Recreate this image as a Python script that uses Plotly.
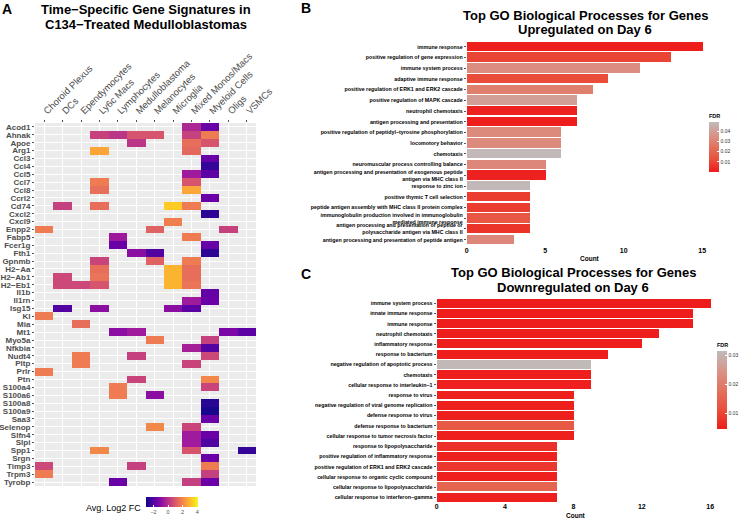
import plotly.graph_objects as go

W, H = 740, 519
FONT = "Liberation Sans, Arial, Helvetica, sans-serif"


def fx(p):
    return p / W


def fy(p):
    return 1 - p / H


# ---------------- Panel A data ----------------
cell_types = ["Choroid Plexus", "DCs", "Ependymocytes", "Ly6c Macs", "Lymphocytes",
              "Medulloblastoma", "Melanocytes", "Microglia", "Mixed Monos/Macs",
              "Myeloid Cells", "Oligs", "VSMCs"]

genes = ["Acod1", "Ahnak", "Apoe", "Arg1", "Ccl3", "Ccl4", "Ccl5", "Ccl7", "Ccl8", "Ccrl2",
         "Cd74", "Cxcl2", "Cxcl9", "Enpp2", "Fabp5", "Fcer1g", "Fth1", "Gpnmb", "H2−Aa",
         "H2−Ab1", "H2−Eb1", "Il1b", "Il1rn", "Isg15", "Kl", "Mia", "Mt1", "Myo5a", "Nfkbia",
         "Nudt4", "Pltp", "Prlr", "Ptn", "S100a4", "S100a6", "S100a8", "S100a9", "Saa3",
         "Selenop", "Slfn4", "Slpi", "Spp1", "Srgn", "Timp3", "Trpm3", "Tyrobp"]

hm_gene = [
    "Acod1", "Acod1",
    "Ahnak", "Ahnak", "Ahnak", "Ahnak", "Ahnak", "Ahnak",
    "Apoe", "Apoe", "Apoe",
    "Arg1", "Arg1",
    "Ccl3", "Ccl4", "Ccl5", "Ccl5",
    "Ccl7", "Ccl7", "Ccl8", "Ccl8", "Ccrl2",
    "Cd74", "Cd74", "Cd74", "Cd74",
    "Cxcl2", "Cxcl9",
    "Enpp2", "Enpp2", "Enpp2",
    "Fabp5", "Fabp5", "Fcer1g", "Fcer1g",
    "Fth1", "Fth1", "Fth1",
    "Gpnmb", "Gpnmb", "Gpnmb",
    "H2−Aa", "H2−Aa", "H2−Aa",
    "H2−Ab1", "H2−Ab1", "H2−Ab1", "H2−Ab1",
    "H2−Eb1", "H2−Eb1", "H2−Eb1", "H2−Eb1", "H2−Eb1",
    "Il1b", "Il1rn", "Il1rn",
    "Isg15", "Isg15", "Isg15", "Isg15",
    "Kl", "Mia",
    "Mt1", "Mt1", "Mt1", "Mt1",
    "Myo5a", "Myo5a", "Nfkbia", "Nfkbia",
    "Nudt4", "Nudt4", "Nudt4", "Pltp", "Pltp",
    "Prlr", "Ptn", "Ptn",
    "S100a4", "S100a4", "S100a6", "S100a6",
    "S100a8", "S100a9", "Saa3",
    "Selenop", "Selenop", "Slfn4", "Slfn4", "Slpi", "Slpi",
    "Spp1", "Spp1", "Spp1", "Srgn",
    "Timp3", "Timp3", "Timp3", "Trpm3", "Trpm3",
    "Tyrobp", "Tyrobp", "Tyrobp",
]

hm_cell = [
    "Mixed Monos/Macs", "Myeloid Cells",
    "Ly6c Macs", "Lymphocytes", "Medulloblastoma", "Melanocytes", "Mixed Monos/Macs", "Myeloid Cells",
    "Medulloblastoma", "Mixed Monos/Macs", "Myeloid Cells",
    "Ly6c Macs", "Mixed Monos/Macs",
    "Myeloid Cells", "Myeloid Cells", "Mixed Monos/Macs", "Myeloid Cells",
    "Ly6c Macs", "Mixed Monos/Macs", "Ly6c Macs", "Mixed Monos/Macs", "Myeloid Cells",
    "DCs", "Ly6c Macs", "Microglia", "Mixed Monos/Macs",
    "Myeloid Cells", "Microglia",
    "Choroid Plexus", "Melanocytes", "Oligs",
    "Lymphocytes", "Mixed Monos/Macs", "Lymphocytes", "Myeloid Cells",
    "Medulloblastoma", "Melanocytes", "Myeloid Cells",
    "Ly6c Macs", "Melanocytes", "Mixed Monos/Macs",
    "Ly6c Macs", "Microglia", "Mixed Monos/Macs",
    "DCs", "Ly6c Macs", "Microglia", "Mixed Monos/Macs",
    "DCs", "Ependymocytes", "Ly6c Macs", "Microglia", "Mixed Monos/Macs",
    "Myeloid Cells", "Mixed Monos/Macs", "Myeloid Cells",
    "DCs", "Ly6c Macs", "Microglia", "Mixed Monos/Macs",
    "Choroid Plexus", "Ependymocytes",
    "Lymphocytes", "Medulloblastoma", "Oligs", "VSMCs",
    "Melanocytes", "Myeloid Cells", "Mixed Monos/Macs", "Myeloid Cells",
    "Ependymocytes", "Medulloblastoma", "Myeloid Cells", "Ependymocytes", "Mixed Monos/Macs",
    "Choroid Plexus", "Medulloblastoma", "Myeloid Cells",
    "Lymphocytes", "Myeloid Cells", "Lymphocytes", "Melanocytes",
    "Myeloid Cells", "Myeloid Cells", "Myeloid Cells",
    "Melanocytes", "Mixed Monos/Macs", "Mixed Monos/Macs", "Myeloid Cells", "Mixed Monos/Macs", "Myeloid Cells",
    "Ly6c Macs", "Mixed Monos/Macs", "VSMCs", "Myeloid Cells",
    "Choroid Plexus", "Medulloblastoma", "Myeloid Cells", "Choroid Plexus", "Myeloid Cells",
    "Lymphocytes", "Mixed Monos/Macs", "Myeloid Cells",
]

hm_fc = [
    -0.3, -1.6,
    0.4, 0.1, 0.85, 0.85, 0.4, 1.75,
    0.1, 1.45, 0.85,
    2.6, 1.35,
    -1.6, -2.5, -0.6, -1.85,
    1.75, 0.85, 1.5, 2.65, -1.6,
    0.35, 1.45, 3.3, 1.75,
    -2.6, 1.85,
    1.75, 1.2, 0.4,
    -0.65, 1.75, -1.6, -1.65,
    -1.0, -2.05, -2.6,
    0.45, 1.2, 1.75,
    1.45, 2.9, 1.45,
    0.55, 1.6, 2.9, 1.45,
    0.55, 0.55, 0.85, 2.9, 1.6,
    -1.7, -0.6, -1.6,
    -2.05, -1.0, -1.0, -1.85,
    1.75, 1.45,
    -1.0, -0.6, -1.3, -1.85,
    1.75, 0.35, -0.45, -2.0,
    1.75, 0.35, 0.55, 1.75, 0.45,
    1.75, 0.45, 2.0,
    1.75, 0.45, 1.75, -1.0,
    -2.7, -2.9, -1.6,
    2.0, 0.45, -0.6, -1.6, -0.6, -2.1,
    2.0, 0.85, -2.5, -1.6,
    0.55, 0.35, 1.75, 1.75, 0.35,
    -1.6, 0.35, -1.6,
]

# ---------------- Panel B data ----------------
up_terms = [
    "immune response",
    "positive regulation of gene expression",
    "immune system process",
    "adaptive immune response",
    "positive regulation of ERK1 and ERK2 cascade",
    "positive regulation of MAPK cascade",
    "neutrophil chemotaxis",
    "antigen processing and presentation",
    "positive regulation of peptidyl−tyrosine phosphorylation",
    "locomotory behavior",
    "chemotaxis",
    "neuromuscular process controlling balance",
    "antigen processing and presentation of exogenous peptide<br>antigen via MHC class II",
    "response to zinc ion",
    "positive thymic T cell selection",
    "peptide antigen assembly with MHC class II protein complex",
    "immunoglobulin production involved in immunoglobulin<br>mediated immune response",
    "antigen processing and presentation of peptide or<br>polysaccharide antigen via MHC class II",
    "antigen processing and presentation of peptide antigen",
]
up_count = [15, 13, 11, 9, 8, 7, 7, 7, 6, 6, 6, 5, 5, 4, 4, 4, 4, 4, 3]
up_fdr = [0.001, 0.010, 0.034, 0.012, 0.029, 0.040, 0.002, 0.001, 0.033, 0.033,
          0.048, 0.032, 0.002, 0.048, 0.008, 0.008, 0.015, 0.006, 0.032]

# ---------------- Panel C data ----------------
down_terms = [
    "immune system process",
    "innate immune response",
    "immune response",
    "neutrophil chemotaxis",
    "inflammatory response",
    "response to bacterium",
    "negative regulation of apoptotic process",
    "chemotaxis",
    "cellular response to interleukin−1",
    "response to virus",
    "negative regulation of viral genome replication",
    "defense response to virus",
    "defense response to bacterium",
    "cellular response to tumor necrosis factor",
    "response to lipopolysaccharide",
    "positive regulation of inflammatory response",
    "positive regulation of ERK1 and ERK2 cascade",
    "cellular response to organic cyclic compound",
    "cellular response to lipopolysaccharide",
    "cellular response to interferon−gamma",
]
down_count = [16, 15, 15, 13, 12, 10, 9, 9, 9, 8, 8, 8, 8, 8, 7, 7, 7, 7, 7, 7]
down_fdr = [0.0046, 0.0046, 0.0047, 0.0047, 0.0048, 0.0048, 0.031, 0.0048, 0.0049, 0.005,
            0.005, 0.005, 0.013, 0.005, 0.007, 0.005, 0.008, 0.005, 0.015, 0.005]

# ---------------- build heatmap matrix ----------------
z = [[None] * len(cell_types) for _ in genes]
for g, c, v in zip(hm_gene, hm_cell, hm_fc):
    z[genes.index(g)][cell_types.index(c)] = v

red_grey = [[0.0, "#EE1C1C"], [0.25, "#E9503C"], [0.5, "#E2735F"],
            [0.75, "#D8958A"], [1.0, "#BFBBBB"]]

fig = go.Figure()

fig.add_trace(go.Heatmap(
    x=cell_types, y=genes, z=z, coloraxis="coloraxis",
    xaxis="x", yaxis="y", hoverongaps=False, xgap=0, ygap=0,
))

fig.add_trace(go.Bar(
    x=up_count, y=up_terms, orientation="h", width=0.88,
    marker=dict(color=up_fdr, coloraxis="coloraxis2", line=dict(width=0)),
    xaxis="x2", yaxis="y2",
))

fig.add_trace(go.Bar(
    x=down_count, y=down_terms, orientation="h", width=0.88,
    marker=dict(color=down_fdr, coloraxis="coloraxis3", line=dict(width=0)),
    xaxis="x3", yaxis="y3",
))

bar_tick_font = dict(family=FONT, size=5.3, color="black", weight="bold")
count_tick_font = dict(family=FONT, size=7, color="black", weight="bold")
fdr_title = dict(text="FDR", side="top", font=dict(family=FONT, size=5.5, color="black", weight="bold"))

fig.update_layout(
    width=W, height=H,
    margin=dict(l=0, r=0, t=0, b=0, autoexpand=False),
    paper_bgcolor="white", plot_bgcolor="rgba(0,0,0,0)",
    font=dict(family=FONT),
    showlegend=False,
    bargap=0,
    xaxis=dict(
        domain=[fx(35), fx(256)], anchor="y", side="top",
        type="category", categoryorder="array", categoryarray=cell_types,
        tickmode="array", tickvals=cell_types,
        range=[-0.5, len(cell_types) - 0.5],
        tickangle=-45, tickfont=dict(family=FONT, size=9.5, color="#4d4d4d"),
        showgrid=True, gridcolor="white", gridwidth=1,
        ticks="outside", ticklen=2, tickcolor="#555", zeroline=False, showline=False,
        automargin=False,
    ),
    yaxis=dict(
        domain=[fy(486), fy(123)], anchor="x",
        type="category", categoryorder="array", categoryarray=genes,
        tickmode="array", tickvals=genes,
        range=[len(genes) - 0.5, -0.5],
        tickfont=dict(family=FONT, size=8, color="#4d4d4d", weight="bold"),
        showgrid=True, gridcolor="white", gridwidth=1,
        ticks="outside", ticklen=2, tickcolor="#555", zeroline=False, showline=False,
        automargin=False,
    ),
    xaxis2=dict(
        domain=[fx(466.7), fx(714)], anchor="y2", range=[0, 15.75],
        tickvals=[0, 5, 10, 15], tickfont=count_tick_font,
        ticks="", ticklabelstandoff=-1,
        showgrid=False, zeroline=False, showline=False, automargin=False,
    ),
    yaxis2=dict(
        domain=[fy(246.1), fy(40.3)], anchor="x2",
        type="category", categoryorder="array", categoryarray=up_terms,
        tickmode="array", tickvals=up_terms,
        range=[len(up_terms) - 1 + 0.6, -0.6],
        tickfont=bar_tick_font, ticks="outside", ticklen=2, tickcolor="#555",
        showgrid=False, zeroline=False, showline=False, automargin=False,
    ),
    xaxis3=dict(
        domain=[fx(436.6), fx(716)], anchor="y3", range=[0, 16.34],
        tickvals=[0, 4, 8, 12, 16], tickfont=count_tick_font,
        ticks="", ticklabelstandoff=-2,
        showgrid=False, zeroline=False, showline=False, automargin=False,
    ),
    yaxis3=dict(
        domain=[fy(503.4), fy(297.2)], anchor="x3",
        type="category", categoryorder="array", categoryarray=down_terms,
        tickmode="array", tickvals=down_terms,
        range=[len(down_terms) - 1 + 0.6, -0.6],
        tickfont=bar_tick_font, ticks="outside", ticklen=2, tickcolor="#555",
        showgrid=False, zeroline=False, showline=False, automargin=False,
    ),
    coloraxis=dict(
        colorscale="Plasma", cmin=-3.05, cmax=4.1,
        colorbar=dict(
            orientation="h", x=fx(171.9), xanchor="center", y=fy(497), yanchor="top",
            lenmode="pixels", len=52, thickness=10, xpad=0, ypad=0, outlinewidth=0,
            tickvals=[-2, 0, 2, 4], ticks="inside", ticklen=2, tickcolor="white",
            tickfont=dict(family=FONT, size=5.5, color="#4d4d4d"),
        ),
    ),
    coloraxis2=dict(
        colorscale=red_grey, cmin=0.0006, cmax=0.049,
        colorbar=dict(
            x=fx(709), xanchor="left", y=fy(110.7), yanchor="top",
            lenmode="pixels", len=61, thickness=10, xpad=0, ypad=0, outlinewidth=0,
            tickvals=[0.01, 0.02, 0.03, 0.04], ticks="inside", ticklen=2, tickcolor="white",
            tickfont=dict(family=FONT, size=5, color="#333"),
            title=fdr_title,
        ),
    ),
    coloraxis3=dict(
        colorscale=red_grey, cmin=0.0045, cmax=0.0314,
        colorbar=dict(
            x=fx(717), xanchor="left", y=fy(340), yanchor="top",
            lenmode="pixels", len=89, thickness=10, xpad=0, ypad=0, outlinewidth=0,
            tickvals=[0.01, 0.02, 0.03], ticks="inside", ticklen=2, tickcolor="white",
            tickfont=dict(family=FONT, size=5, color="#333"),
            title=fdr_title,
        ),
    ),
)

# grey panel background for heatmap
fig.add_shape(type="rect", xref="x domain", yref="y domain", x0=0, x1=1, y0=0, y1=1,
              fillcolor="#EBEBEB", line=dict(width=0), layer="below")


def ann(text, x, y, size, xanchor="center", bold=True, color="black"):
    fig.add_annotation(
        text=text, x=fx(x), y=fy(y), xref="paper", yref="paper",
        xanchor=xanchor, yanchor="middle", showarrow=False,
        font=dict(family=FONT, size=size, color=color, weight="bold" if bold else "normal"),
    )


ann("A", 7, 9, 14)
ann("B", 306, 8, 14)
ann("C", 306, 274, 14)
ann("Time−Specific Gene Signatures in", 146, 10, 13)
ann("C134−Treated Medulloblastomas", 146, 25, 13)
ann("Top GO Biological Processes for Genes", 585, 15, 13)
ann("Upregulated on Day 6", 585, 30, 13)
ann("Top GO Biological Processes for Genes", 573, 272, 13)
ann("Downregulated on Day 6", 573, 287, 13)
ann("Avg. Log2 FC", 143, 508, 9, xanchor="right", bold=False)
ann("Count", 590, 258, 6.5)
ann("Count", 576, 515, 6.5)

fig.write_html(
    "out.html",
    config={"displayModeBar": False},
    post_script="document.body.style.margin='0';document.body.style.padding='0';",
)
